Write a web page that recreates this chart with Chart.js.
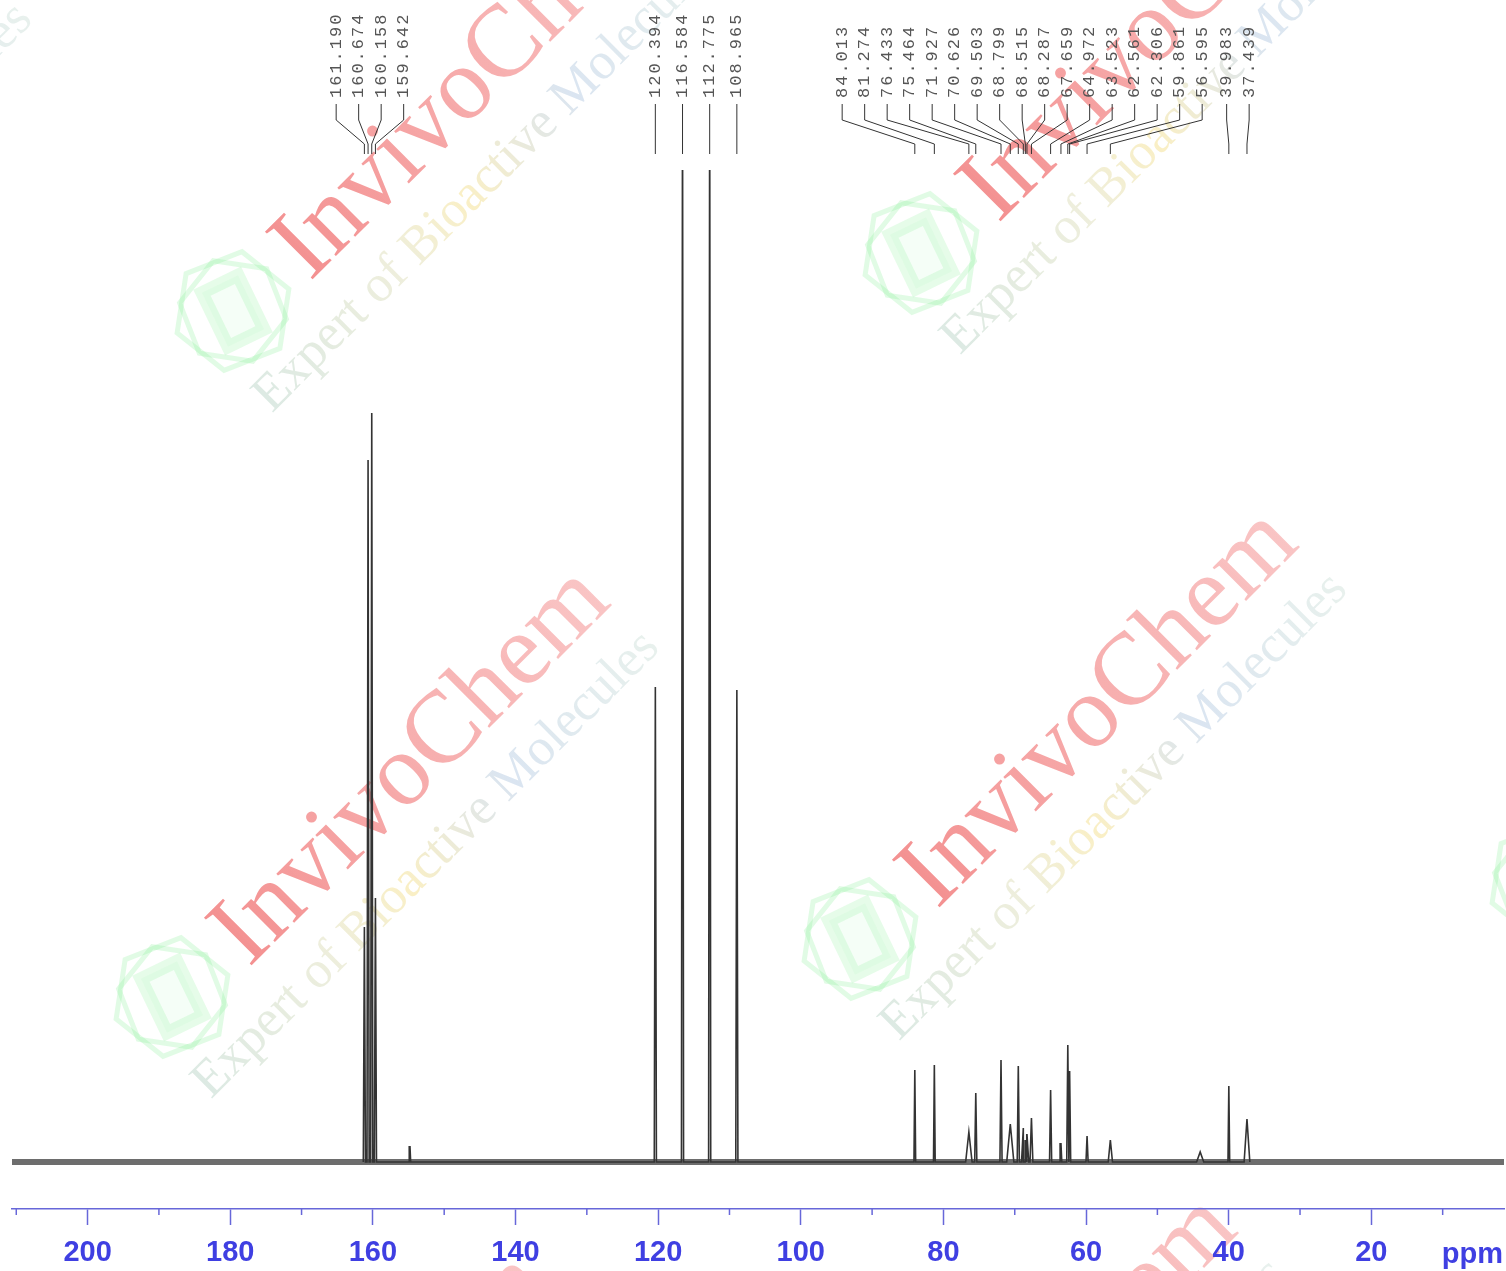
<!DOCTYPE html>
<html>
<head>
<meta charset="utf-8">
<script src="https://cdn.jsdelivr.net/npm/chart.js@4.4.1/dist/chart.umd.min.js"></script>
<style>
  html, body { margin: 0; padding: 0; background: #fff; }
  canvas { display: block; }
</style>
</head>
<body>
<canvas id="chart" width="1506" height="1271"></canvas>
<script>
// 13C NMR spectrum, peaks (ppm, height above baseline, half base width in ppm)
var peakPpm = [161.190, 160.674, 160.158, 159.642, 154.8, 120.394, 116.584, 112.775, 108.965,
  84.013, 81.274, 76.433, 75.464, 71.927, 70.626, 69.503, 68.799, 68.515, 68.287, 67.659,
  64.972, 63.523, 62.561, 62.306, 59.861, 56.595, 44.0, 39.983, 37.439];
var peakHeight = [235, 702, 749, 264, 16, 475, 1100, 1100, 472,
  92, 97, 30, 69, 102, 38, 96, 34, 22, 28, 44,
  72, 19, 117, 91, 26, 22, 10, 76, 43];
var peakWidth = [0.15, 0.15, 0.15, 0.15, 0.1, 0.15, 0.15, 0.15, 0.15,
  0.12, 0.12, 0.45, 0.15, 0.15, 0.5, 0.15, 0.25, 0.2, 0.25, 0.2,
  0.15, 0.12, 0.15, 0.15, 0.15, 0.3, 0.5, 0.12, 0.4];

// picked peak labels printed along the top
var labelPpm = [161.190, 160.674, 160.158, 159.642, 120.394, 116.584, 112.775, 108.965,
  84.013, 81.274, 76.433, 75.464, 71.927, 70.626, 69.503, 68.799, 68.515, 68.287, 67.659,
  64.972, 63.523, 62.561, 62.306, 59.861, 56.595, 39.983, 37.439];
var labelText = ['161.190', '160.674', '160.158', '159.642', '120.394', '116.584', '112.775', '108.965',
  '84.013', '81.274', '76.433', '75.464', '71.927', '70.626', '69.503', '68.799', '68.515', '68.287', '67.659',
  '64.972', '63.523', '62.561', '62.306', '59.861', '56.595', '39.983', '37.439'];

var majorTicks = [200, 180, 160, 140, 120, 100, 80, 60, 40, 20];
var minorTicks = [210, 190, 170, 150, 130, 110, 90, 70, 50, 30, 10];
var ppmRange = [1.4, 210.6];

var axisBlue = '#6767d9';
var labelBlue = '#3f3fe2';

var spectrum = [];
peakPpm.forEach(function (p, i) {
  spectrum.push({x: p + peakWidth[i], y: 0});
  spectrum.push({x: p, y: peakHeight[i]});
  spectrum.push({x: p - peakWidth[i], y: 0});
});
spectrum.sort(function (a, b) { return a.x - b.x; });

var baseline = [{x: ppmRange[0], y: 0}, {x: ppmRange[1], y: 0}];

// spread crowded labels into evenly spaced clusters
function spreadLabels(xs, gap) {
  var groups = xs.map(function (x) { return [x]; });
  function mid(g) { return g.reduce(function (a, b) { return a + b; }, 0) / g.length; }
  function first(g) { return mid(g) - (g.length - 1) * gap / 2; }
  function last(g) { return mid(g) + (g.length - 1) * gap / 2; }
  var merged = true;
  while (merged) {
    merged = false;
    for (var k = 0; k < groups.length - 1; k++) {
      if (first(groups[k + 1]) - last(groups[k]) < gap) {
        groups[k] = groups[k].concat(groups[k + 1]);
        groups.splice(k + 1, 1);
        merged = true;
        break;
      }
    }
  }
  var out = [];
  groups.forEach(function (g) {
    var s = first(g);
    g.forEach(function (_, i) { out.push(s + i * gap); });
  });
  return out;
}

function hexagon(ctx, r, rot) {
  ctx.beginPath();
  for (var i = 0; i < 6; i++) {
    var a = rot + i * Math.PI / 3;
    var px = r * Math.cos(a), py = r * Math.sin(a);
    if (i === 0) ctx.moveTo(px, py); else ctx.lineTo(px, py);
  }
  ctx.closePath();
  ctx.stroke();
}

function drawMark(ctx, x, y) {
  ctx.save();
  ctx.translate(x, y);
  ctx.strokeStyle = 'rgba(120,235,135,0.22)';
  ctx.lineWidth = 5;
  hexagon(ctx, 60, Math.PI / 2 + 0.15);
  hexagon(ctx, 54, Math.PI / 3 + 0.15);
  ctx.save();
  ctx.rotate(-0.45);
  ctx.lineWidth = 13;
  ctx.fillStyle = 'rgba(190,250,200,0.15)';
  ctx.fillRect(-20, -30, 40, 60);
  ctx.strokeStyle = 'rgba(140,240,155,0.22)';
  ctx.strokeRect(-20, -30, 40, 60);
  ctx.restore();

  ctx.rotate(-Math.PI / 4);
  ctx.textAlign = 'left';
  ctx.textBaseline = 'alphabetic';
  ctx.font = '103px "Liberation Serif"';
  var g = ctx.createLinearGradient(75, 0, 610, 0);
  g.addColorStop(0, 'rgba(232,35,35,0.5)');
  g.addColorStop(1, 'rgba(238,80,80,0.32)');
  ctx.fillStyle = g;
  ctx.fillText('InvivoChem', 75, 34);

  ctx.font = '52px "Liberation Serif"';
  var g2 = ctx.createLinearGradient(-45, 0, 600, 0);
  g2.addColorStop(0, 'rgba(140,185,165,0.3)');
  g2.addColorStop(0.3, 'rgba(200,200,140,0.3)');
  g2.addColorStop(0.45, 'rgba(240,210,90,0.35)');
  g2.addColorStop(0.68, 'rgba(150,180,215,0.35)');
  g2.addColorStop(1, 'rgba(175,205,190,0.28)');
  ctx.fillStyle = g2;
  ctx.fillText('Expert of Bioactive Molecules', -45, 100);
  ctx.restore();
}

var watermark = {
  id: 'watermark',
  beforeDraw: function (chart) {
    var ctx = chart.ctx;
    for (var i = -1; i <= 2; i++) {
      for (var j = -1; j <= 1; j++) {
        drawMark(ctx, 172 + i * 688 + j * 61, 997 - i * 58 - j * 686);
      }
    }
  }
};

var peakLabels = {
  id: 'peakLabels',
  afterDraw: function (chart) {
    var ctx = chart.ctx;
    var xs = chart.scales.x;
    var order = labelPpm.map(function (p, i) { return i; });
    order.sort(function (a, b) { return xs.getPixelForValue(labelPpm[a]) - xs.getPixelForValue(labelPpm[b]); });
    var peakX = order.map(function (i) { return xs.getPixelForValue(labelPpm[i]); });
    var textX = spreadLabels(peakX, 22.5);

    ctx.save();
    ctx.strokeStyle = '#333';
    ctx.lineWidth = 1;
    ctx.fillStyle = '#555';
    ctx.font = '17px "Liberation Mono"';
    ctx.letterSpacing = '2px';
    ctx.textAlign = 'left';
    ctx.textBaseline = 'middle';
    order.forEach(function (idx, k) {
      var tx = textX[k], px = peakX[k];
      ctx.beginPath();
      ctx.moveTo(tx, 104);
      ctx.lineTo(tx, 120);
      ctx.lineTo(px, 144);
      ctx.lineTo(px, 154);
      ctx.stroke();
      ctx.save();
      ctx.translate(tx, 98);
      ctx.rotate(-Math.PI / 2);
      ctx.fillText(labelText[idx], 0, 0);
      ctx.restore();
    });
    ctx.restore();

    // minor ticks and unit label
    var bottom = chart.chartArea.bottom;
    ctx.save();
    ctx.strokeStyle = axisBlue;
    ctx.lineWidth = 1.5;
    minorTicks.forEach(function (v) {
      var x = xs.getPixelForValue(v);
      ctx.beginPath();
      ctx.moveTo(x, bottom);
      ctx.lineTo(x, bottom + 6);
      ctx.stroke();
    });
    ctx.fillStyle = labelBlue;
    ctx.font = 'bold 29px "Liberation Sans"';
    ctx.textAlign = 'right';
    ctx.textBaseline = 'alphabetic';
    ctx.fillText('ppm', 1503, 1263);
    ctx.restore();
  }
};

new Chart(document.getElementById('chart'), {
  type: 'line',
  data: {
    datasets: [{
      data: spectrum,
      borderColor: '#333',
      borderWidth: 1.6,
      pointRadius: 0,
      tension: 0,
      order: 0
    }, {
      data: baseline,
      borderColor: 'rgba(60,60,60,0.75)',
      borderWidth: 6,
      pointRadius: 0,
      order: 1
    }]
  },
  options: {
    responsive: false,
    animation: false,
    devicePixelRatio: 1,
    layout: {padding: {left: 12, right: 2, top: 170, bottom: 0}},
    plugins: {
      legend: {display: false},
      tooltip: {enabled: false}
    },
    scales: {
      x: {
        type: 'linear',
        reverse: true,
        bounds: 'data',
        min: ppmRange[0],
        max: ppmRange[1],
        afterBuildTicks: function (s) {
          s.ticks = majorTicks.map(function (v) { return {value: v}; });
        },
        afterFit: function (s) { s.height = 62; },
        border: {color: axisBlue, width: 1.5},
        grid: {
          drawOnChartArea: false,
          tickLength: 16,
          tickWidth: 1.5,
          tickColor: axisBlue
        },
        ticks: {
          autoSkip: false,
          maxRotation: 0,
          padding: 11,
          color: labelBlue,
          font: {family: 'Liberation Sans', size: 29, weight: 'bold'},
          callback: function (v) { return String(v); }
        }
      },
      y: {
        display: false,
        min: -47,
        max: 992
      }
    }
  },
  plugins: [watermark, peakLabels]
});
</script>
</body>
</html>
